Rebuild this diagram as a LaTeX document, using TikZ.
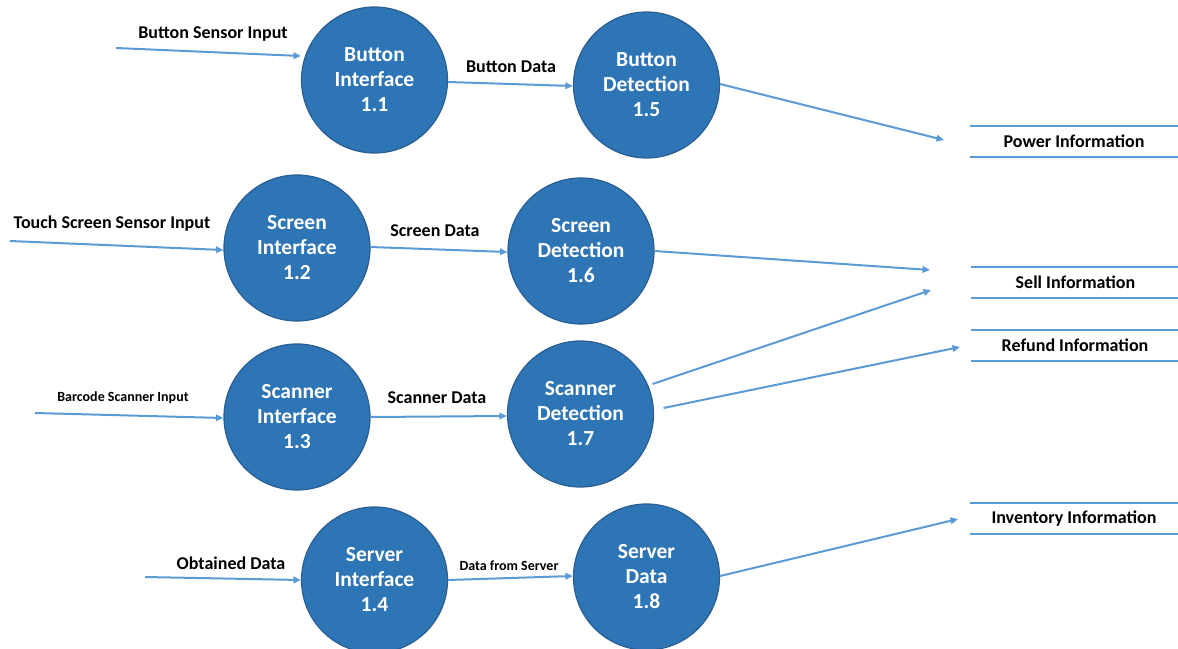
\documentclass[tikz,border=0pt]{standalone}
\usepackage{fontspec}
\setmainfont{Carlito}
\usetikzlibrary{arrows.meta}
\definecolor{procfill}{HTML}{2E75B6}
\definecolor{procedge}{HTML}{2A5E93}
\definecolor{flow}{HTML}{5B9BD5}
\tikzset{
  process/.style={circle, fill=procfill, draw=procedge, line width=1.2pt,
    minimum size=146pt, inner sep=0pt, text=white, align=center,
    font=\fontsize{21.5}{25}\selectfont\bfseries},
  flowline/.style={draw=flow, line width=2pt, -{Triangle[length=7.5pt,width=6.5pt]}},
  flowlabel/.style={font=\fontsize{18}{20}\selectfont\bfseries, inner sep=0pt},
  smalllabel/.style={font=\fontsize{14}{16}\selectfont\bfseries, inner sep=0pt},
  store/.style={minimum width=208pt, minimum height=31pt, inner sep=0pt,
    font=\fontsize{18}{20}\selectfont\bfseries},
  storeline/.style={draw=flow, line width=2pt}
}
\begin{document}
\begin{tikzpicture}[x=1pt,y=-1pt]
\useasboundingbox (0,0) rectangle (1178,648);

% processes
\node[process] (p11) at (374.5,80)  {Button\\Interface\\1.1};
\node[process] (p15) at (646.5,85)  {Button\\Detection\\1.5};
\node[process] (p12) at (297,248)   {Screen\\Interface\\1.2};
\node[process] (p16) at (581,251)   {Screen\\Detection\\1.6};
\node[process] (p13) at (297,417)   {Scanner\\Interface\\1.3};
\node[process] (p17) at (580.5,414) {Scanner\\Detection\\1.7};
\node[process] (p14) at (374.5,580) {Server\\Interface\\1.4};
\node[process] (p18) at (646.5,577) {Server\\Data\\1.8};

% data stores
\node[store] (power) at (1074,141.5) {Power Information};
\node[store] (sell) at (1075.5,282.5) {Sell Information};
\node[store] (refund) at (1075,345.5) {Refund Information};
\node[store] (inv) at (1074,518.5) {Inventory Information};
\foreach \s in {power,sell,refund,inv}{
  \draw[storeline] (\s.north west) -- (\s.north east);
  \draw[storeline] (\s.south west) -- (\s.south east);
}

% free ends of flows
\coordinate (inBtn) at (116,48);
\coordinate (inTouch) at (10,241);
\coordinate (inBar) at (35,413);
\coordinate (inSrv) at (145,577);
\coordinate (toPower) at (944,140);
\coordinate (toSellA) at (930,270);
\coordinate (toSellB) at (931,290);
\coordinate (toRefund) at (960,347);
\coordinate (toInv) at (958,519);

% input flows
\draw[flowline] (inBtn) -- (p11.west |- 0,56);
\draw[flowline] (inTouch) -- (p12.west |- 0,250);
\draw[flowline] (inBar) -- (p13.west |- 0,418);
\draw[flowline] (inSrv) -- (p14.west |- 0,580);

% internal flows
\draw[flowline] (p11.east |- 0,82) -- (p15.west |- 0,86);
\draw[flowline] (p12.east |- 0,247) -- (p16.west |- 0,252);
\draw[flowline] (p13.east |- 0,417) -- (p17.west |- 0,416);
\draw[flowline] (p14.east |- 0,580) -- (p18.west |- 0,576);

% output flows
\draw[flowline] (p15.east |- 0,84) -- (toPower);
\draw[flowline] (p16.east |- 0,251) -- (toSellA);
\draw[flowline] (p17) ++(72,-30) coordinate (o17a) -- (toSellB);
\draw[flowline] (p17) ++(83,-6) coordinate (o17b) -- (toRefund);
\draw[flowline] (p18.east |- 0,576) -- (toInv);

% flow labels
\node[flowlabel] (lBtnIn) at (213,34.5) {Button Sensor Input};
\node[flowlabel] (lTouchIn) at (112,223.5) {Touch Screen Sensor Input};
\node[smalllabel] (lBarIn) at (123,398) {Barcode Scanner Input};
\node[flowlabel] (lSrvIn) at (231,563.5) {Obtained Data};
\node[flowlabel] (lBtnData) at (511,66.5) {Button Data};
\node[flowlabel] (lScrData) at (435,230.5) {Screen Data};
\node[flowlabel] (lScnData) at (437,397.5) {Scanner Data};
\node[smalllabel] (lSrvData) at (509,566) {Data from Server};
\end{tikzpicture}
\end{document}
